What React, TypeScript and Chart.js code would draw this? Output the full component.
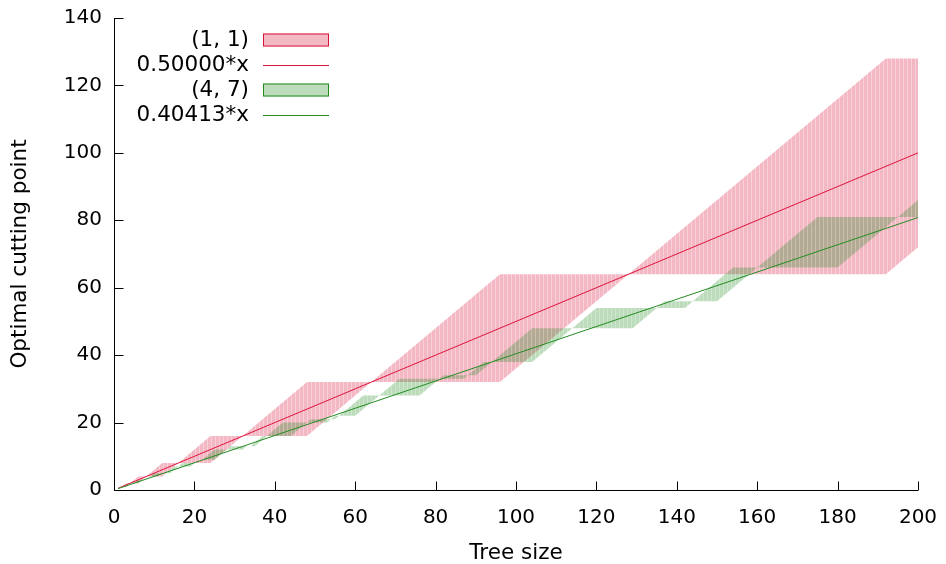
import React, { useEffect, useRef } from "react";
import { Chart, registerables } from "chart.js";

Chart.register(...registerables);

// Band of optimal cutting points for costs (1, 1): corner points
const pinkN = [2, 3, 4, 6, 8, 12, 16, 24, 32, 48, 64, 96, 128, 192, 200];
const pinkLow = [1, 1, 2, 2, 4, 4, 8, 8, 16, 16, 32, 32, 64, 64, 72];
const pinkHigh = [1, 2, 2, 4, 4, 8, 8, 16, 16, 32, 32, 64, 64, 128, 128];

// Band of optimal cutting points for costs (4, 7): corner points
const greenN = [2, 3, 4, 5, 6, 7, 8, 9, 10, 11, 12, 13, 14, 15, 16, 17, 19, 20, 21, 22, 25, 28, 29, 32, 33, 34, 35, 37, 38, 42, 44, 48, 49, 53, 54, 55, 56, 60, 62, 66, 71, 76, 81, 82, 87, 88, 90, 92, 94, 104, 114, 120, 129, 135, 137, 142, 144, 150, 154, 160, 175, 180, 195, 200];
const greenLow = [1, 1, 2, 2, 2, 3, 3, 4, 4, 4, 5, 5, 5, 6, 7, 7, 7, 8, 8, 9, 9, 12, 12, 12, 13, 13, 13, 15, 16, 16, 16, 20, 20, 20, 21, 21, 22, 22, 24, 28, 28, 28, 33, 33, 33, 34, 34, 36, 38, 38, 48, 48, 48, 54, 54, 54, 56, 56, 60, 66, 66, 66, 81, 81];
const greenHigh = [1, 1, 2, 2, 3, 3, 3, 4, 5, 5, 5, 5, 6, 7, 7, 8, 8, 8, 8, 9, 12, 12, 13, 13, 13, 13, 14, 16, 16, 20, 20, 20, 21, 21, 21, 22, 22, 26, 28, 28, 33, 33, 33, 34, 34, 34, 36, 38, 38, 48, 48, 54, 54, 54, 56, 56, 56, 62, 66, 66, 81, 81, 81, 86];

// Reference lines
const lineRange = [1, 200];
const slopeA = 0.5;
const slopeB = 0.40413;

const seriesLabels = ["(1, 1)", "0.50000*x", "(4, 7)", "0.40413*x"];
const xTitle = "Tree size";
const yTitle = "Optimal cutting point";

const RED = "rgb(220,20,60)";
const RED_FILL = "rgba(220,20,60,0.3)";
const GREEN = "rgb(34,139,34)";
const GREEN_FILL = "rgba(34,139,34,0.3)";
const FONT = "'DejaVu Sans', sans-serif";

const pts = (xs: number[], ys: number[]) => xs.map((x, i) => ({ x, y: ys[i] }));
const linePts = (k: number) => lineRange.map((x) => ({ x, y: k * x }));

function stripes(rgb: string, a: number, aLight: number): CanvasPattern | string {
  const c = document.createElement("canvas");
  c.width = 4;
  c.height = 1;
  const g = c.getContext("2d");
  if (!g) return `rgba(${rgb},${a})`;
  g.fillStyle = `rgba(${rgb},${a})`;
  g.fillRect(0, 0, 3, 1);
  g.fillStyle = `rgba(${rgb},${aLight})`;
  g.fillRect(3, 0, 1, 1);
  return g.createPattern(c, "repeat") || `rgba(${rgb},${a})`;
}

const decor = {
  id: "decor",
  afterDatasetsDraw(chart: any) {
    const { ctx, chartArea: a, scales } = chart;
    const xs = scales.x;
    const ys = scales.y;
    ctx.save();
    ctx.strokeStyle = "#000";
    ctx.lineWidth = 1;
    ctx.beginPath();
    const L = Math.round(a.left) + 0.5;
    const B = Math.round(a.bottom) + 0.5;
    ctx.moveTo(L, a.top);
    ctx.lineTo(L, B);
    ctx.lineTo(a.right, B);
    for (const t of ys.ticks) {
      const py = Math.round(ys.getPixelForValue(t.value)) + 0.5;
      ctx.moveTo(L, py);
      ctx.lineTo(L + 9, py);
    }
    for (const t of xs.ticks) {
      const px = Math.round(xs.getPixelForValue(t.value)) + 0.5;
      ctx.moveTo(px, B);
      ctx.lineTo(px, B - 9);
    }
    ctx.stroke();

    // axis titles
    ctx.fillStyle = "#000";
    ctx.font = `21.5px ${FONT}`;
    ctx.textAlign = "center";
    ctx.textBaseline = "middle";
    ctx.fillText(xTitle, (a.left + a.right) / 2, 553);
    ctx.save();
    ctx.translate(20, (a.top + a.bottom) / 2);
    ctx.rotate(-Math.PI / 2);
    ctx.fillText(yTitle, 0, 0);
    ctx.restore();

    // legend
    const rowY = [40, 65, 90, 115];
    const textRight = 249;
    const sx0 = 263;
    const sx1 = 329;
    ctx.textAlign = "right";
    seriesLabels.forEach((lab, i) => {
      const cy = rowY[i];
      ctx.fillStyle = "#000";
      ctx.fillText(lab, textRight, cy);
      if (i % 2 === 0) {
        ctx.fillStyle = i === 0 ? RED_FILL : GREEN_FILL;
        ctx.fillRect(sx0, cy - 6.5, sx1 - sx0, 13);
        ctx.strokeStyle = i === 0 ? RED : GREEN;
        ctx.strokeRect(sx0 + 0.5, cy - 6, sx1 - sx0 - 1, 12);
      } else {
        ctx.strokeStyle = i === 1 ? RED : GREEN;
        ctx.beginPath();
        ctx.moveTo(sx0, Math.round(cy) + 0.5);
        ctx.lineTo(sx1, Math.round(cy) + 0.5);
        ctx.stroke();
      }
    });
    ctx.restore();
  },
};

export default function App() {
  const ref = useRef<HTMLCanvasElement | null>(null);
  useEffect(() => {
    if (!ref.current) return;
    const pinkFill = stripes("220,20,60", 0.3, 0.2);
    const greenFill = stripes("34,139,34", 0.3, 0.22);
    const chart = new Chart(ref.current, {
      type: "line",
      data: {
        datasets: [
          { label: "pinkLow", data: pts(pinkN, pinkLow), borderWidth: 0, pointRadius: 0, fill: false, order: 6 },
          { label: seriesLabels[0], data: pts(pinkN, pinkHigh), borderWidth: 0, pointRadius: 0, fill: "-1", backgroundColor: pinkFill, order: 5 },
          { label: seriesLabels[1], data: linePts(slopeA), borderColor: RED, borderWidth: 1, pointRadius: 0, fill: false, order: 4 },
          { label: "greenLow", data: pts(greenN, greenLow), borderWidth: 0, pointRadius: 0, fill: false, order: 3 },
          { label: seriesLabels[2], data: pts(greenN, greenHigh), borderWidth: 0, pointRadius: 0, fill: "-1", backgroundColor: greenFill, order: 2 },
          { label: seriesLabels[3], data: linePts(slopeB), borderColor: GREEN, borderWidth: 1, pointRadius: 0, fill: false, order: 1 },
        ] as any,
      },
      options: {
        animation: false,
        responsive: false,
        devicePixelRatio: 1,
        events: [],
        layout: { padding: { left: 0, right: 28, top: 18, bottom: 0 } },
        plugins: { legend: { display: false }, tooltip: { enabled: false } },
        scales: {
          x: {
            type: "linear",
            min: 0,
            max: 200,
            grid: { display: false, drawTicks: false },
            border: { display: false },
            ticks: { stepSize: 20, padding: 16, color: "#000", font: { family: FONT, size: 20 }, maxRotation: 0 },
            afterFit: (s: any) => { s.height = 74; s.paddingLeft = 0; s.paddingRight = 0; },
          },
          y: {
            type: "linear",
            min: 0,
            max: 140,
            grid: { display: false, drawTicks: false },
            border: { display: false },
            ticks: { stepSize: 20, padding: 12, color: "#000", font: { family: FONT, size: 20 } },
            afterFit: (s: any) => { s.width = 114; s.paddingTop = 0; s.paddingBottom = 0; },
          },
        },
      },
      plugins: [decor],
    });
    return () => chart.destroy();
  }, []);
  return (
    <div style={{ position: "absolute", left: 0, top: 0, width: 946, height: 564, background: "#fff" }}>
      <canvas ref={ref} width={946} height={564} />
    </div>
  );
}
